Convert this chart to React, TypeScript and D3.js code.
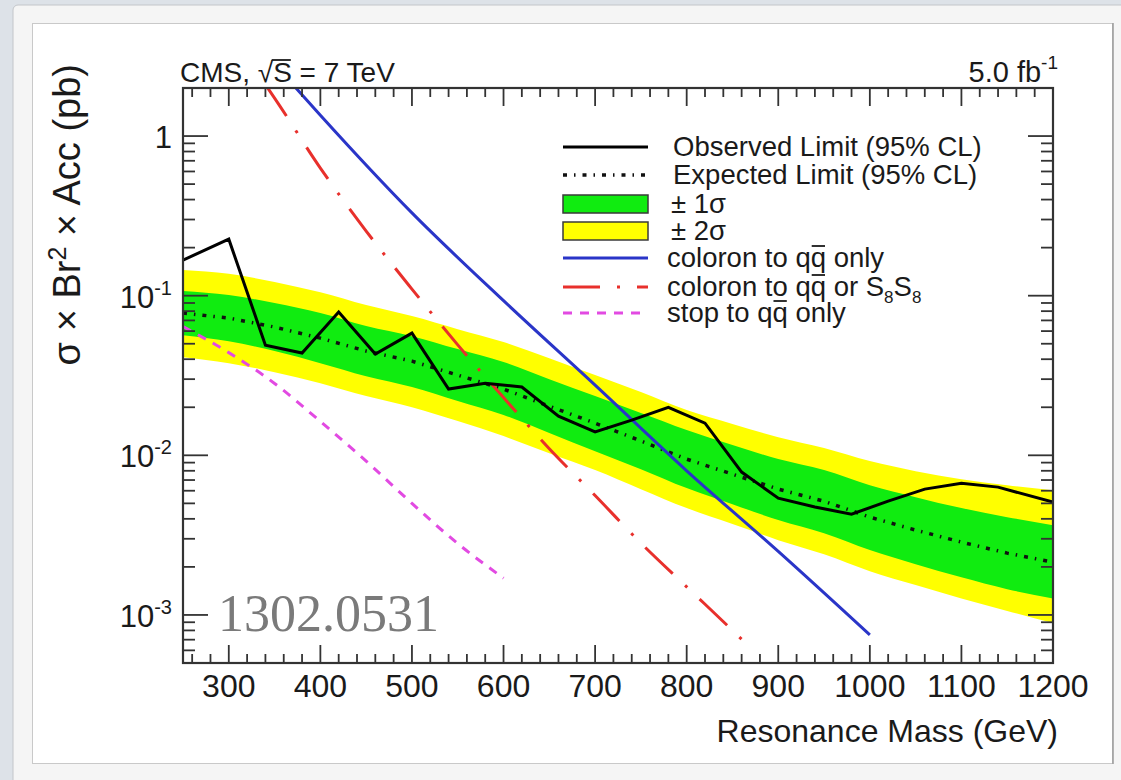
import * as d3 from "d3";
import { useEffect, useRef } from "react";

// expected limit and bands (pb)
const bandMass = [250, 300, 350, 400, 450, 500, 550, 600, 650, 700, 750, 800, 850, 900, 950, 1000, 1050, 1100, 1150, 1200];
const expected = [0.0778, 0.0724, 0.0636, 0.0542, 0.045, 0.0389, 0.0318, 0.026, 0.0203, 0.0159, 0.0123, 0.00946, 0.00762, 0.00614, 0.00516, 0.0041, 0.0034, 0.00286, 0.00244, 0.00214];
const sigma1Up = [0.107, 0.101, 0.09, 0.0778, 0.0645, 0.0558, 0.0463, 0.0384, 0.03, 0.0235, 0.0184, 0.0144, 0.0116, 0.00947, 0.00808, 0.0065, 0.00547, 0.00467, 0.0041, 0.00365];
const sigma1Down = [0.0566, 0.0519, 0.045, 0.0378, 0.0313, 0.0268, 0.0219, 0.0179, 0.0138, 0.0106, 0.00819, 0.00623, 0.00494, 0.00393, 0.00325, 0.00255, 0.00208, 0.00172, 0.00145, 0.00127];
const sigma2Up = [0.145, 0.137, 0.122, 0.105, 0.0873, 0.0745, 0.0617, 0.0512, 0.0406, 0.0318, 0.0249, 0.0192, 0.0157, 0.013, 0.0111, 0.0092, 0.00796, 0.00709, 0.0065, 0.00605];
const sigma2Down = [0.0412, 0.0378, 0.0332, 0.0283, 0.0235, 0.02, 0.0164, 0.0132, 0.0103, 0.00808, 0.00614, 0.00467, 0.00371, 0.00294, 0.0024, 0.00188, 0.00154, 0.00127, 0.00106, 0.00089];

const obsMass = [250, 300, 340, 380, 420, 460, 500, 540, 580, 620, 660, 700, 740, 780, 820, 860, 900, 940, 980, 1020, 1060, 1100, 1140, 1200];
const observed = [0.167, 0.226, 0.049, 0.0437, 0.0789, 0.0431, 0.0583, 0.026, 0.0283, 0.0268, 0.0176, 0.014, 0.0166, 0.02, 0.0159, 0.00785, 0.00539, 0.00474, 0.00428, 0.00516, 0.00614, 0.00669, 0.00632, 0.00509];

// theory curves
const coloronMass = [370, 400, 500, 600, 700, 800, 900, 1000];
const coloronQQ = [2.1, 1.35, 0.33, 0.093, 0.0275, 0.008, 0.0025, 0.00075];
const coloronS8Mass = [340, 350, 400, 450, 500, 550, 600, 650, 700, 750, 800, 850, 865];
const coloronS8 = [2.1, 1.73, 0.63, 0.254, 0.11, 0.0492, 0.023, 0.011, 0.0056, 0.00282, 0.0015, 0.0008, 0.00066];
const stopMass = [250, 300, 350, 400, 450, 500, 550, 600];
const stopQQ = [0.064, 0.044, 0.0282, 0.0163, 0.0092, 0.005, 0.0028, 0.0017];

const xTicks = [300, 400, 500, 600, 700, 800, 900, 1000, 1100, 1200];
const yDecades = [1, 0.1, 0.01, 0.001];
const yDecadeExp = ["", "-1", "-2", "-3"];

// legend text; barIdx = index of the anti-quark letter that gets a bar
const legendLabels = [
  "Observed Limit (95% CL)",
  "Expected Limit (95% CL)",
  "± 1σ",
  "± 2σ",
  "coloron to qq only",
  "coloron to qq or S",
  "stop to qq only",
];
const barIdx = [-1, -1, -1, -1, 12, 12, 9];

const SANS = "'Liberation Sans', Arial, Helvetica, sans-serif";
const GREEN = "#10ec10";
const YELLOW = "#ffff00";
const BLUE = "#2a35c8";
const RED = "#e8302c";
const MAGENTA = "#e24ae2";

const zip = (xs: number[], ys: number[]) => xs.map((m, i) => [m, ys[i]] as [number, number]);

export default function App() {
  const svgRef = useRef<SVGSVGElement>(null);

  useEffect(() => {
    const svg = d3.select(svgRef.current);
    svg.selectAll("*").remove();

    const W = 1121, H = 780;
    const left = 183, right = 1053, top = 88, bottom = 663;

    // page / card background
    svg.append("rect").attr("width", W).attr("height", H).attr("fill", "#dde2e8");
    svg.append("rect").attr("x", 13).attr("y", 5).attr("width", W).attr("height", H)
      .attr("rx", 5).attr("fill", "#f5f5f5").attr("stroke", "#c3c6ca");
    svg.append("rect").attr("x", 32.5).attr("y", 23.5).attr("width", 1080).attr("height", 740)
      .attr("fill", "#fff").attr("stroke", "#c9c9c9");
    svg.append("line").attr("x1", 1113).attr("x2", 1113).attr("y1", 23).attr("y2", 764)
      .attr("stroke", "#9a9a9a").attr("stroke-width", 1.5);

    const x = d3.scaleLinear().domain([250, 1200]).range([left, right]);
    const y = d3.scaleLog().domain([5e-4, 2]).range([bottom, top]);

    svg.append("clipPath").attr("id", "frame")
      .append("rect").attr("x", left).attr("y", top).attr("width", right - left).attr("height", bottom - top);
    const g = svg.append("g").attr("clip-path", "url(#frame)");

    const area = (lo: number[], hi: number[]) =>
      d3.area<number>().x((m) => x(m)).y0((_, i) => y(lo[i])).y1((_, i) => y(hi[i])).curve(d3.curveMonotoneX)(bandMass);

    g.append("path").attr("d", area(sigma2Down, sigma2Up)).attr("fill", YELLOW);
    g.append("path").attr("d", area(sigma1Down, sigma1Up)).attr("fill", GREEN);

    const line = d3.line<[number, number]>().x((d) => x(d[0])).y((d) => y(d[1]));
    const smooth = d3.line<[number, number]>().x((d) => x(d[0])).y((d) => y(d[1])).curve(d3.curveMonotoneX);

    g.append("path").attr("d", smooth(zip(stopMass, stopQQ))).attr("fill", "none")
      .attr("stroke", MAGENTA).attr("stroke-width", 3).attr("stroke-dasharray", "9,8");
    g.append("path").attr("d", line(zip(bandMass, expected))).attr("fill", "none")
      .attr("stroke", "#111").attr("stroke-width", 3.5).attr("stroke-dasharray", "4,7,1.5,7");
    g.append("path").attr("d", smooth(zip(coloronS8Mass, coloronS8))).attr("fill", "none")
      .attr("stroke", RED).attr("stroke-width", 3).attr("stroke-dasharray", "38,17,3,17");
    g.append("path").attr("d", smooth(zip(coloronMass, coloronQQ))).attr("fill", "none")
      .attr("stroke", BLUE).attr("stroke-width", 3);
    g.append("path").attr("d", line(zip(obsMass, observed))).attr("fill", "none")
      .attr("stroke", "#000").attr("stroke-width", 3).attr("stroke-linejoin", "miter");

    // ticks (ROOT style, inside the frame on all four sides)
    const tk = svg.append("g").attr("stroke", "#333").attr("stroke-width", 1.8);
    for (let m = 260; m <= 1200; m += 20) {
      const major = m % 100 === 0;
      const len = major ? 18 : 9;
      const px = x(m);
      tk.append("line").attr("x1", px).attr("x2", px).attr("y1", bottom).attr("y2", bottom - len);
      tk.append("line").attr("x1", px).attr("x2", px).attr("y1", top).attr("y2", top + len);
    }
    for (let e = -4; e <= 0; e++) {
      for (let k = 1; k <= 9; k++) {
        const v = k * Math.pow(10, e);
        if (v < 5e-4 || v > 2) continue;
        const len = k === 1 ? 25 : 12;
        const py = y(v);
        tk.append("line").attr("x1", left).attr("x2", left + len).attr("y1", py).attr("y2", py);
        tk.append("line").attr("x1", right).attr("x2", right - len).attr("y1", py).attr("y2", py);
      }
    }
    svg.append("rect").attr("x", left).attr("y", top).attr("width", right - left).attr("height", bottom - top)
      .attr("fill", "none").attr("stroke", "#333").attr("stroke-width", 2.2);

    // tick labels
    const txt = svg.append("g").attr("font-family", SANS).attr("fill", "#1a1a1a");
    xTicks.forEach((m) => {
      txt.append("text").attr("x", x(m)).attr("y", 697).attr("text-anchor", "middle")
        .attr("font-size", 32).text(m);
    });
    yDecades.forEach((v, i) => {
      const t = txt.append("text").attr("x", 172).attr("y", y(v) + 12).attr("text-anchor", "end")
        .attr("font-size", 31);
      if (yDecadeExp[i] === "") {
        t.text("1");
      } else {
        t.append("tspan").text("10");
        t.append("tspan").attr("dy", -13).attr("font-size", 20).text(yDecadeExp[i]);
      }
    });

    // axis titles
    txt.append("text").attr("x", 1058).attr("y", 742).attr("text-anchor", "end")
      .attr("font-size", 32).text("Resonance Mass (GeV)");
    const yl = txt.append("text").attr("transform", "translate(80,64) rotate(-90)")
      .attr("text-anchor", "end").attr("font-size", 38);
    yl.append("tspan").text("σ × Br");
    yl.append("tspan").attr("dy", -14).attr("font-size", 25).text("2");
    yl.append("tspan").attr("dy", 14).text(" × Acc (pb)");

    // bar over a single character of a text element
    const bar = (t: d3.Selection<SVGTextElement, unknown, null, undefined>, idx: number, rise: number, x0?: number) => {
      const node = t.node() as SVGTextElement;
      const s = node.getStartPositionOfChar(idx);
      const e = node.getEndPositionOfChar(idx);
      svg.append("line").attr("x1", x0 ?? s.x + 1).attr("x2", e.x - 1)
        .attr("y1", s.y - rise).attr("y2", s.y - rise)
        .attr("stroke", "#1a1a1a").attr("stroke-width", 1.8);
    };

    // header
    const hd = txt.append("text").attr("x", 180).attr("y", 82).attr("font-size", 28).text("CMS, √S = 7 TeV");
    {
      const node = hd.node() as SVGTextElement;
      const rootEnd = node.getEndPositionOfChar(5).x;
      bar(hd, 6, 22, rootEnd - 1.5);
    }
    const lum = txt.append("text").attr("x", 1058).attr("y", 82).attr("text-anchor", "end").attr("font-size", 29);
    lum.append("tspan").text("5.0 fb");
    lum.append("tspan").attr("dy", -13).attr("font-size", 19).text("-1");

    // legend
    const rows = [147, 175, 204, 231, 258, 287, 313];
    const textX = [673, 673, 671, 671, 667, 667, 667];
    const lg = svg.append("g");
    const lx0 = 563, lx1 = 648;
    const seg = (r: number, stroke: string, dash: string | null, width = 3) => {
      const l = lg.append("line").attr("x1", lx0).attr("x2", lx1).attr("y1", rows[r]).attr("y2", rows[r])
        .attr("stroke", stroke).attr("stroke-width", width);
      if (dash) l.attr("stroke-dasharray", dash);
    };
    seg(0, "#000", null);
    seg(1, "#111", "4,7,1.5,7", 3.5);
    lg.append("rect").attr("x", lx0).attr("y", rows[2] - 9).attr("width", lx1 - lx0).attr("height", 18)
      .attr("fill", GREEN).attr("stroke", "#3a3a3a").attr("stroke-width", 1.5);
    lg.append("rect").attr("x", lx0).attr("y", rows[3] - 9).attr("width", lx1 - lx0).attr("height", 18)
      .attr("fill", YELLOW).attr("stroke", "#3a3a3a").attr("stroke-width", 1.5);
    seg(4, BLUE, null);
    seg(5, RED, "37,17,3,17");
    seg(6, MAGENTA, "9,8");

    legendLabels.forEach((label, i) => {
      const t = lg.append("text").attr("x", textX[i]).attr("y", rows[i] + 9)
        .attr("font-family", SANS).attr("font-size", 27.5).attr("fill", "#1a1a1a").text(label);
      if (i === 5) {
        t.append("tspan").attr("dy", 7).attr("font-size", 17).text("8");
        t.append("tspan").attr("dy", -7).text("S");
        t.append("tspan").attr("dy", 7).attr("font-size", 17).text("8");
      }
      if (barIdx[i] >= 0) bar(t, barIdx[i], 21);
    });

    // arXiv stamp
    svg.append("text").attr("x", 218).attr("y", 631).attr("font-family", "'Liberation Serif', 'Times New Roman', serif")
      .attr("font-size", 52).attr("fill", "#7a7a7a").text("1302.0531");
  }, []);

  return (
    <svg ref={svgRef} width={1121} height={780}
      style={{ position: "absolute", left: 0, top: 0, display: "block" }} />
  );
}
